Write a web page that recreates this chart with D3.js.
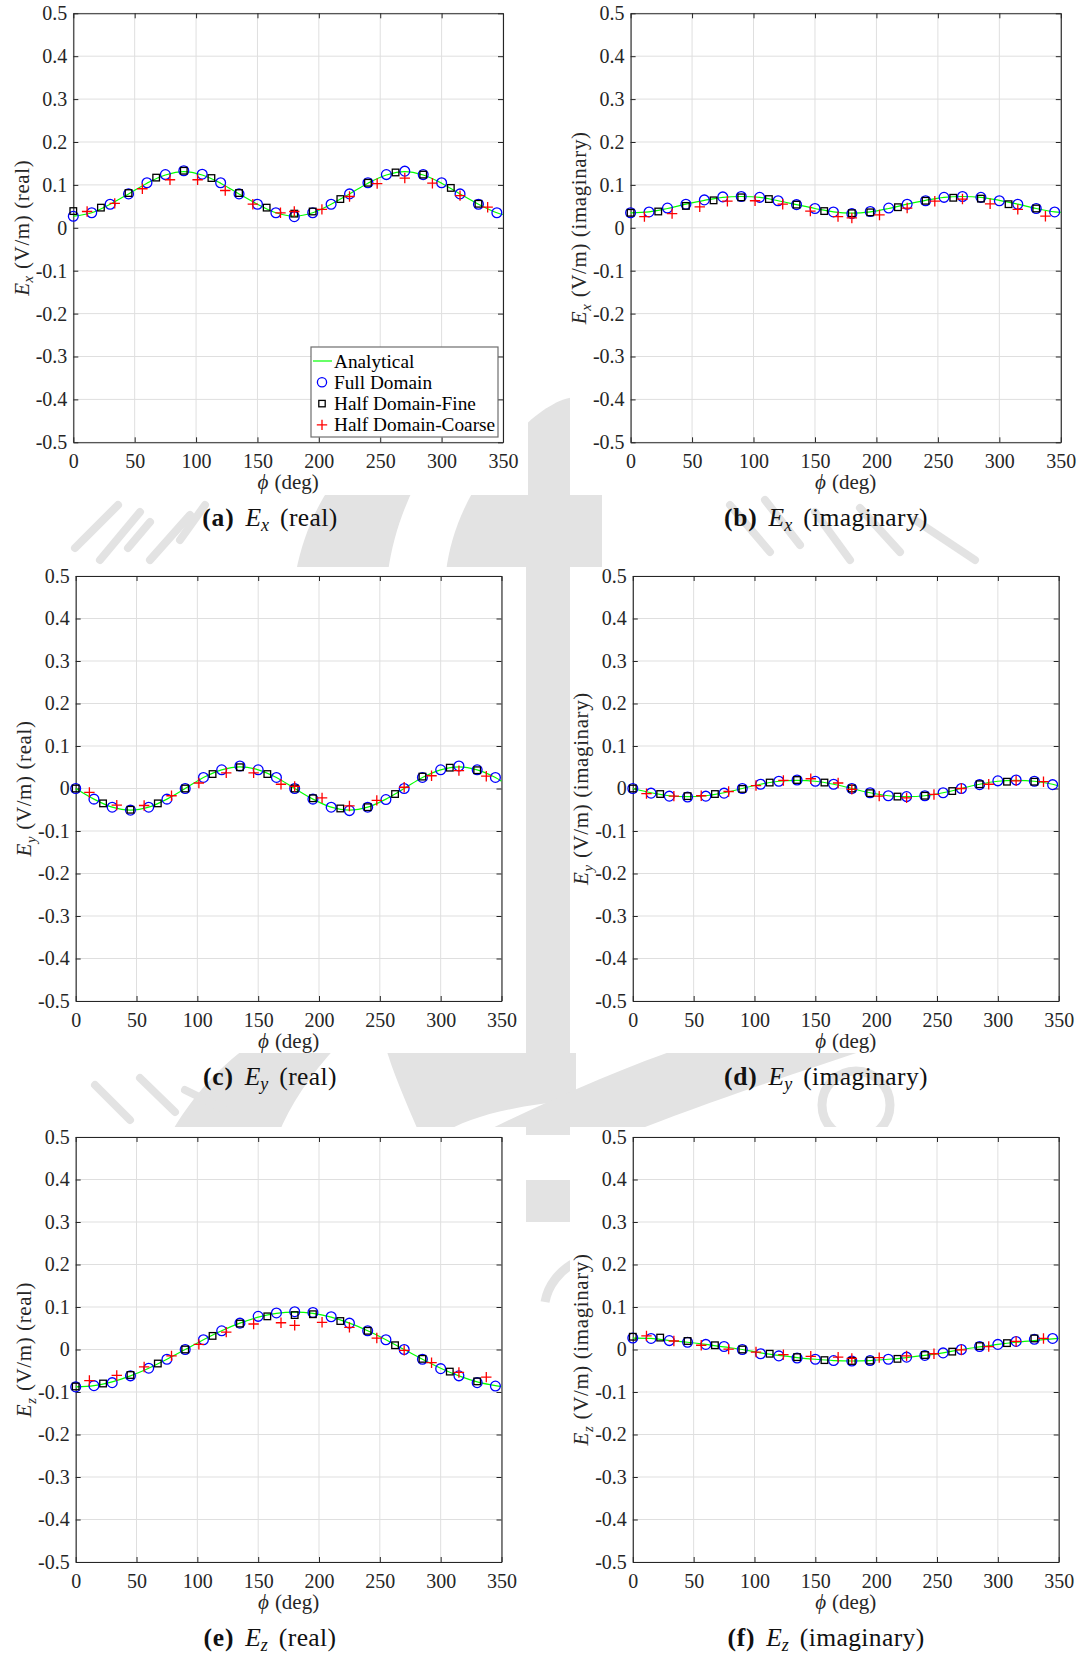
<!DOCTYPE html>
<html>
<head>
<meta charset="utf-8">
<script src="https://cdn.jsdelivr.net/npm/d3@7"></script>
<style>
  html, body { margin: 0; padding: 0; background: #fff; }
  svg { display: block; }
  svg text { font-family: "Liberation Serif", "Times New Roman", Times, serif; }
</style>
</head>
<body>
<svg id="fig" width="1083" height="1659"></svg>
<script>
// ---- angles (deg) at which each solution was sampled ----
const phiAnalytical = [0,15,30,45,60,75,90,105,120,135,150,165,180,195,210,225,240,255,270,285,300,315,330,345,350];
const phiFull   = [0,15,30,45,60,75,90,105,120,135,150,165,180,195,210,225,240,255,270,285,300,315,330,345];
const phiFine   = [0,22.5,45,67.5,90,112.5,135,157.5,180,195,217.5,240,262.5,285,307.5,330];
const phiCoarse = [11.25,33.75,56.25,78.75,101.25,123.75,146.25,168.75,180,202.5,225,247.5,270,292.5,315,337.5];

// ---- axis ticks ----
const xTicks = [0,50,100,150,200,250,300,350];
const yTicks = [-0.5,-0.4,-0.3,-0.2,-0.1,0,0.1,0.2,0.3,0.4,0.5];
const yTickLabels = ["-0.5","-0.4","-0.3","-0.2","-0.1","0","0.1","0.2","0.3","0.4","0.5"];

// ---- series names ----
const seriesNames = ["Analytical","Full Domain","Half Domain-Fine","Half Domain-Coarse"];

// ---- Ex real (V/m) ----
const exRealAnalytical = [0.027,0.035,0.055,0.079,0.104,0.123,0.131,0.123,0.104,0.079,0.055,0.035,0.027,0.035,0.055,0.079,0.104,0.123,0.131,0.123,0.104,0.079,0.055,0.035,0.031];
const exRealFull   = [0.027,0.035,0.055,0.079,0.105,0.124,0.133,0.125,0.105,0.079,0.055,0.035,0.026,0.035,0.055,0.079,0.105,0.124,0.132,0.124,0.105,0.079,0.055,0.035];
const exRealFine   = [0.039,0.047,0.081,0.117,0.133,0.116,0.081,0.047,0.033,0.038,0.067,0.105,0.129,0.124,0.093,0.056];
const exRealCoarse = [0.038,0.057,0.091,0.112,0.112,0.087,0.055,0.035,0.038,0.043,0.073,0.103,0.116,0.104,0.075,0.048];

// ---- Ex imaginary (V/m) ----
const exImagAnalytical = [0.035,0.037,0.045,0.055,0.064,0.071,0.073,0.071,0.063,0.054,0.045,0.037,0.034,0.037,0.045,0.055,0.064,0.071,0.073,0.071,0.064,0.055,0.045,0.037,0.036];
const exImagFull   = [0.035,0.037,0.046,0.055,0.065,0.072,0.073,0.071,0.063,0.054,0.045,0.037,0.033,0.038,0.046,0.055,0.063,0.071,0.073,0.071,0.063,0.055,0.045,0.037];
const exImagFine   = [0.035,0.038,0.051,0.064,0.071,0.067,0.054,0.039,0.034,0.036,0.048,0.063,0.070,0.068,0.055,0.045];
const exImagCoarse = [0.026,0.033,0.049,0.062,0.063,0.055,0.039,0.026,0.023,0.030,0.046,0.062,0.067,0.056,0.043,0.027];

// ---- Ey real (V/m) ----
const eyRealAnalytical = [0,-0.025,-0.044,-0.051,-0.044,-0.025,0,0.026,0.044,0.051,0.044,0.026,0,-0.025,-0.044,-0.051,-0.044,-0.025,0,0.026,0.044,0.051,0.044,0.026,0.017];
const eyRealFull   = [0,-0.025,-0.044,-0.051,-0.044,-0.025,0,0.026,0.044,0.053,0.044,0.026,0,-0.025,-0.044,-0.052,-0.044,-0.026,0,0.026,0.044,0.053,0.044,0.026];
const eyRealFine   = [0,-0.035,-0.050,-0.035,0,0.034,0.050,0.034,0,-0.023,-0.047,-0.044,-0.013,0.028,0.049,0.043];
const eyRealCoarse = [-0.009,-0.039,-0.040,-0.017,0.013,0.037,0.037,0.010,0.005,-0.022,-0.041,-0.028,0.003,0.030,0.042,0.029];

// ---- Ey imaginary (V/m) ----
const eyImagAnalytical = [0,-0.010,-0.017,-0.019,-0.017,-0.010,0,0.010,0.017,0.019,0.017,0.010,0,-0.010,-0.017,-0.019,-0.017,-0.010,0,0.010,0.017,0.019,0.017,0.010,0.006];
const eyImagFull   = [0,-0.011,-0.018,-0.020,-0.018,-0.011,0,0.010,0.017,0.020,0.017,0.010,0,-0.010,-0.017,-0.019,-0.017,-0.010,0,0.009,0.018,0.020,0.017,0.009];
const eyImagFine   = [0,-0.013,-0.018,-0.013,-0.001,0.014,0.020,0.014,0,-0.011,-0.019,-0.017,-0.006,0.010,0.016,0.016];
const eyImagCoarse = [-0.012,-0.018,-0.017,-0.007,0.007,0.019,0.023,0.013,-0.002,-0.018,-0.022,-0.014,0,0.010,0.018,0.016];

// ---- Ez real (V/m) ----
const ezRealAnalytical = [-0.088,-0.085,-0.076,-0.062,-0.044,-0.023,0,0.023,0.044,0.062,0.076,0.085,0.088,0.085,0.076,0.062,0.044,0.023,0,-0.023,-0.044,-0.062,-0.076,-0.085,-0.087];
const ezRealFull   = [-0.088,-0.085,-0.078,-0.062,-0.044,-0.023,0,0.023,0.044,0.062,0.078,0.086,0.089,0.087,0.077,0.062,0.044,0.023,0,-0.023,-0.045,-0.062,-0.078,-0.086];
const ezRealFine   = [-0.087,-0.080,-0.060,-0.033,0,0.032,0.061,0.078,0.081,0.083,0.067,0.044,0.010,-0.022,-0.052,-0.075];
const ezRealCoarse = [-0.073,-0.061,-0.041,-0.015,0.012,0.041,0.060,0.063,0.057,0.064,0.052,0.027,-0.002,-0.031,-0.054,-0.065];

// ---- Ez imaginary (V/m) ----
const ezImagAnalytical = [0.027,0.026,0.021,0.017,0.012,0.006,0,-0.008,-0.014,-0.019,-0.023,-0.026,-0.027,-0.026,-0.023,-0.019,-0.014,-0.008,0,0.006,0.012,0.017,0.021,0.025,0.026];
const ezImagFull   = [0.027,0.026,0.021,0.017,0.012,0.007,0,-0.010,-0.015,-0.020,-0.023,-0.026,-0.027,-0.026,-0.023,-0.018,-0.014,-0.008,0,0.007,0.012,0.019,0.024,0.026];
const ezImagFine   = [0.030,0.028,0.020,0.010,0,-0.010,-0.018,-0.025,-0.027,-0.026,-0.022,-0.013,-0.005,0.008,0.015,0.026];
const ezImagCoarse = [0.032,0.020,0.010,0.001,-0.006,-0.012,-0.016,-0.018,-0.021,-0.019,-0.015,-0.010,-0.001,0.007,0.019,0.026];

// ---- subfigure captions ----
const captionLetters = ["a","b","c","d","e","f"];
const componentSubs  = ["x","x","y","y","z","z"];
const partNames      = ["real","imaginary","real","imaginary","real","imaginary"];

const svg = d3.select("#fig");
const INK = "#262626";
const GRID = "#dfdfdf";
const WM = "#e3e3e3";
const SERIF = "'Liberation Serif', 'Times New Roman', Times, serif";

// ---------- faint emblem printed behind the page ----------
const wm = svg.append("g").attr("class", "emblem").attr("fill", WM);
const emblemShapes = [
  // left sweep of the upper arc
  "M 350 462 L 428 462 C 408 495 394 530 388 572 L 296 572 C 304 530 322 492 350 462 Z",
  // head of the central stem
  "M 446 572 C 452 520 480 470 520 430 C 540 410 560 398 575 397 C 590 420 600 450 602 480 L 602 572 Z",
  // central stem
  "M 522 430 L 576 430 L 576 1100 L 522 1100 Z",
  // lower-left arc
  "M 250 1045 L 338 1045 C 310 1075 290 1105 278 1135 L 170 1135 C 190 1100 215 1070 250 1045 Z",
  // foot of the central stem
  "M 385 1045 L 576 1045 L 576 1100 C 520 1105 470 1115 440 1135 L 420 1135 C 405 1100 392 1070 385 1045 Z",
  // lower-right sweep
  "M 690 1045 L 880 1045 C 790 1075 700 1105 625 1135 L 478 1135 C 550 1100 620 1068 690 1045 Z",
  // small piece seen below the stem
  "M 522 1180 L 576 1180 L 576 1222 L 522 1222 Z"
];
wm.selectAll("path.shape").data(emblemShapes).join("path").attr("class", "shape").attr("d", d => d);
// lettering around the emblem
const letterStrokes = [
  [75,548,118,505],[100,560,140,512],[128,548,150,522],[150,560,190,515],[180,540,205,505],
  [730,505,770,552],[765,500,800,545],[815,512,850,560],[860,508,900,552],[915,520,975,560],
  [95,1085,130,1120],[140,1078,175,1112],[185,1090,230,1112]
];
wm.append("g").selectAll("line").data(letterStrokes).join("line")
  .attr("x1", d => d[0]).attr("y1", d => d[1]).attr("x2", d => d[2]).attr("y2", d => d[3])
  .attr("stroke", WM).attr("stroke-width", 8).attr("stroke-linecap", "round");
wm.append("circle").attr("cx", 856).attr("cy", 1105).attr("r", 34)
  .attr("fill", "none").attr("stroke", WM).attr("stroke-width", 9);
wm.append("path").attr("d", "M 576 1262 C 560 1270 548 1285 545 1302")
  .attr("fill", "none").attr("stroke", WM).attr("stroke-width", 9);

// ---------- white page areas of the six subfigures ----------
const sheets = [[0,0,528,495],[570,0,513,495],[0,567,526,486],[570,567,513,486],[0,1127,526,532],[570,1127,513,532]];
svg.append("g").selectAll("rect").data(sheets).join("rect")
  .attr("x", d => d[0]).attr("y", d => d[1]).attr("width", d => d[2]).attr("height", d => d[3])
  .attr("fill", "#fff");

// ---------- panel layout (plot box in px) ----------
const panels = [
  { box: [73.3, 13.3, 503.0, 442.3], sheetMid: 270, ana: exRealAnalytical, full: exRealFull, fine: exRealFine, coarse: exRealCoarse, legend: true },
  { box: [630.6, 13.3, 1060.8, 442.3], sheetMid: 826, ana: exImagAnalytical, full: exImagFull, fine: exImagFine, coarse: exImagCoarse },
  { box: [75.7, 576, 501.5, 1001], sheetMid: 270, ana: eyRealAnalytical, full: eyRealFull, fine: eyRealFine, coarse: eyRealCoarse },
  { box: [632.8, 576, 1058.7, 1001], sheetMid: 826, ana: eyImagAnalytical, full: eyImagFull, fine: eyImagFine, coarse: eyImagCoarse },
  { box: [75.7, 1137, 501.5, 1562], sheetMid: 270, ana: ezRealAnalytical, full: ezRealFull, fine: ezRealFine, coarse: ezRealCoarse },
  { box: [632.8, 1137, 1058.7, 1562], sheetMid: 826, ana: ezImagAnalytical, full: ezImagFull, fine: ezImagFine, coarse: ezImagCoarse }
];

const CIRCLE_R = 4.9, SQ = 6.6, PLUS = 5.2, MSW = 1.3;

function plusPath(cx, cy) {
  return `M${cx - PLUS},${cy}H${cx + PLUS}M${cx},${cy - PLUS}V${cy + PLUS}`;
}

// axis-label builder: italic E with italic subscript, then plain text
function mathLabel(t, sub, rest, size) {
  t.append("tspan").attr("font-style", "italic").text("E");
  t.append("tspan").attr("font-style", "italic").attr("font-size", size * 0.7).attr("dy", size * 0.22).text(sub);
  t.append("tspan").attr("dy", -size * 0.22).attr("dx", size * 0.3).text(rest);
}

panels.forEach((p, i) => {
  const [x0, y0, x1, y1] = p.box;
  const x = d3.scaleLinear().domain([0, 350]).range([x0, x1]);
  const y = d3.scaleLinear().domain([-0.5, 0.5]).range([y1, y0]);
  const g = svg.append("g");

  // grid
  g.append("g").selectAll("line").data(xTicks).join("line")
    .attr("x1", d => x(d)).attr("x2", d => x(d)).attr("y1", y0).attr("y2", y1)
    .attr("stroke", GRID).attr("stroke-width", 1);
  g.append("g").selectAll("line").data(yTicks).join("line")
    .attr("x1", x0).attr("x2", x1).attr("y1", d => y(d)).attr("y2", d => y(d))
    .attr("stroke", GRID).attr("stroke-width", 1);

  // axes (ticks pointing inward, box on)
  const ax = [
    g.append("g").attr("transform", `translate(0,${y1})`).call(d3.axisBottom(x).tickValues(xTicks).tickFormat(d3.format("d")).tickSizeInner(-5).tickSizeOuter(0).tickPadding(12)),
    g.append("g").attr("transform", `translate(${x0},0)`).call(d3.axisLeft(y).tickValues(yTicks).tickFormat((d, k) => yTickLabels[k]).tickSizeInner(-5).tickSizeOuter(0).tickPadding(6)),
    g.append("g").attr("transform", `translate(0,${y0})`).call(d3.axisTop(x).tickValues(xTicks).tickFormat("").tickSizeInner(-5).tickSizeOuter(0)),
    g.append("g").attr("transform", `translate(${x1},0)`).call(d3.axisRight(y).tickValues(yTicks).tickFormat("").tickSizeInner(-5).tickSizeOuter(0))
  ];
  ax.forEach(a => {
    a.attr("font-family", null).attr("font-size", null);
    a.select(".domain").attr("stroke", INK).attr("stroke-width", 1.1);
    a.selectAll(".tick line").attr("stroke", INK).attr("stroke-width", 1);
    a.selectAll(".tick text").attr("fill", INK)
      .style("font-family", SERIF).style("font-size", "20px");
  });

  // analytical curve
  const line = d3.line().x(d => x(d[0])).y(d => y(d[1])).curve(d3.curveCatmullRom.alpha(0.5));
  g.append("path").datum(d3.zip(phiAnalytical, p.ana)).attr("d", line)
    .attr("fill", "none").attr("stroke", "#00ff00").attr("stroke-width", 1.2);

  // full domain
  g.append("g").selectAll("circle").data(d3.zip(phiFull, p.full)).join("circle")
    .attr("cx", d => x(d[0])).attr("cy", d => y(d[1])).attr("r", CIRCLE_R)
    .attr("fill", "none").attr("stroke", "#0000ff").attr("stroke-width", MSW);
  // half domain fine
  g.append("g").selectAll("rect").data(d3.zip(phiFine, p.fine)).join("rect")
    .attr("x", d => x(d[0]) - SQ / 2).attr("y", d => y(d[1]) - SQ / 2).attr("width", SQ).attr("height", SQ)
    .attr("fill", "none").attr("stroke", "#000").attr("stroke-width", MSW);
  // half domain coarse
  g.append("g").selectAll("path").data(d3.zip(phiCoarse, p.coarse)).join("path")
    .attr("d", d => plusPath(x(d[0]), y(d[1])))
    .attr("fill", "none").attr("stroke", "#ff0000").attr("stroke-width", MSW);

  // x label
  const xl = g.append("text").attr("x", (x0 + x1) / 2).attr("y", y1 + 47)
    .attr("text-anchor", "middle").attr("font-size", 21).attr("fill", INK);
  xl.append("tspan").attr("font-style", "italic").text("\u03D5");
  xl.append("tspan").attr("dx", 6).text("(deg)");

  // y label
  const yl = g.append("text")
    .attr("transform", `translate(${x0 - 52},${(y0 + y1) / 2}) rotate(-90)`)
    .attr("text-anchor", "middle").attr("dy", "0.35em")
    .attr("font-size", 21).attr("letter-spacing", 0.6).attr("fill", INK);
  mathLabel(yl, componentSubs[i], `(V/m)  (${partNames[i]})`, 21);

  // caption
  const cap = svg.append("text").attr("x", p.sheetMid).attr("y", y1 + 84)
    .attr("text-anchor", "middle").attr("font-size", 25.5).attr("fill", "#111");
  cap.append("tspan").attr("font-weight", "bold").attr("letter-spacing", 0.8).text(`(${captionLetters[i]})`);
  cap.append("tspan").attr("dx", 11).attr("font-style", "italic").text("E");
  cap.append("tspan").attr("font-style", "italic").attr("font-size", 18).attr("dy", 5).text(componentSubs[i]);
  cap.append("tspan").attr("dy", -5).attr("dx", 11).attr("letter-spacing", 0.4).text(`(${partNames[i]})`);

  // legend
  if (p.legend) {
    const lg = g.append("g").attr("transform", "translate(311,347)");
    lg.append("rect").attr("width", 187).attr("height", 90)
      .attr("fill", "#fff").attr("stroke", "#6e6e6e").attr("stroke-width", 1.2);
    const rowY = k => 14 + k * 21.3;
    lg.append("line").attr("x1", 2).attr("x2", 21).attr("y1", rowY(0)).attr("y2", rowY(0))
      .attr("stroke", "#00ff00").attr("stroke-width", 1.2);
    lg.append("circle").attr("cx", 11).attr("cy", rowY(1)).attr("r", 4.6)
      .attr("fill", "none").attr("stroke", "#0000ff").attr("stroke-width", MSW);
    lg.append("rect").attr("x", 11 - 3.2).attr("y", rowY(2) - 3.2).attr("width", 6.4).attr("height", 6.4)
      .attr("fill", "none").attr("stroke", "#000").attr("stroke-width", MSW);
    lg.append("path").attr("d", plusPath(11, rowY(3)))
      .attr("fill", "none").attr("stroke", "#ff0000").attr("stroke-width", MSW);
    lg.selectAll("text.entry").data(seriesNames).join("text").attr("class", "entry")
      .attr("x", 23).attr("y", (d, k) => rowY(k)).attr("dy", "0.34em")
      .attr("font-size", 19.3).attr("fill", "#000").text(d => d);
  }
});
</script>
</body>
</html>
